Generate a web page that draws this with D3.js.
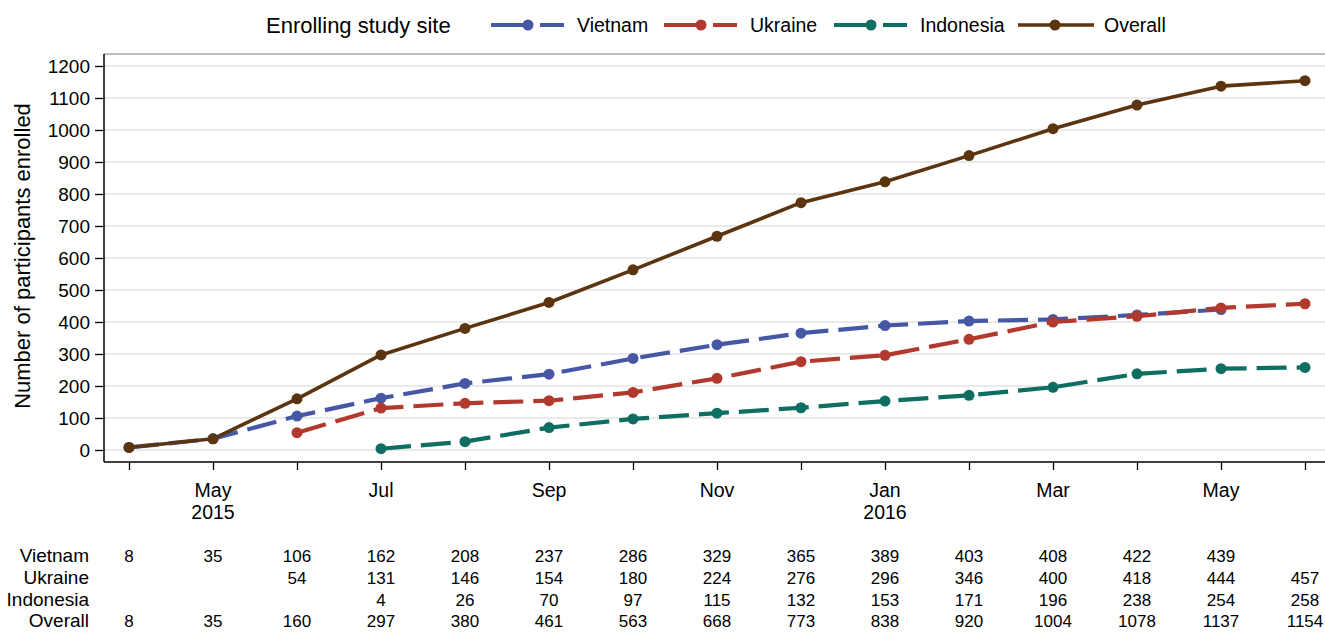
<!DOCTYPE html>
<html><head><meta charset="utf-8">
<script src="https://cdn.jsdelivr.net/npm/d3@7"></script>
<style>body{margin:0;background:#fff}svg{display:block;font-family:"Liberation Sans",Arial,sans-serif}</style>
</head><body>
<svg id="c" width="1325" height="633"></svg>
<script>
const months = ["Apr","May","Jun","Jul","Aug","Sep","Oct","Nov","Dec","Jan","Feb","Mar","Apr","May","Jun"];
const years = {1:"2015", 9:"2016"};
const vietnam   = [8,35,106,162,208,237,286,329,365,389,403,408,422,439,null];
const ukraine   = [null,null,54,131,146,154,180,224,276,296,346,400,418,444,457];
const indonesia = [null,null,null,4,26,70,97,115,132,153,171,196,238,254,258];
const overall   = [8,35,160,297,380,461,563,668,773,838,920,1004,1078,1137,1154];
const yTicks = [0,100,200,300,400,500,600,700,800,900,1000,1100,1200];
const seriesNames = ["Vietnam","Ukraine","Indonesia","Overall"];
const seriesData = [vietnam, ukraine, indonesia, overall];
const colors = ["#4658a5","#b2392e","#0d6e61","#5b3510"];
const dashed = [true,true,true,false];

const svg = d3.select("#c");
const x = d3.scaleLinear().domain([0, months.length-1]).range([129,1305]);
const y = d3.scaleLinear().domain([0,1200]).range([450,66]);
const pL = 104, pR = 1325, pT = 54, pB = 462;

// gridlines
svg.append("g").selectAll("line").data(yTicks).join("line")
  .attr("x1",pL).attr("x2",pR).attr("y1",d=>y(d)).attr("y2",d=>y(d))
  .attr("stroke","#e3e3e3").attr("stroke-width",1.5);
// top border
svg.append("line").attr("x1",pL).attr("x2",pR).attr("y1",pT).attr("y2",pT)
  .attr("stroke","#a8a8a8").attr("stroke-width",1.5);

// y axis
const ya = svg.append("g").attr("transform",`translate(${pL},0)`)
  .call(d3.axisLeft(y).tickValues(yTicks).tickFormat(d3.format("d")).tickSize(9).tickPadding(5).tickSizeOuter(0));
ya.select(".domain").remove();
ya.append("line").attr("x1",0).attr("x2",0).attr("y1",pT).attr("y2",pB).attr("stroke","#000").attr("stroke-width",1.5);
ya.selectAll(".tick line").attr("stroke-width",1.3);
ya.selectAll("text").attr("font-size",19).attr("fill","#000").attr("font-family","Liberation Sans, Arial, sans-serif");

// x axis
const xa = svg.append("g").attr("transform",`translate(0,${pB})`)
  .call(d3.axisBottom(x).tickValues(d3.range(months.length)).tickSize(8).tickFormat(""));
xa.select(".domain").remove();
xa.append("line").attr("x1",pL).attr("x2",pR).attr("y1",0).attr("y2",0).attr("stroke","#000").attr("stroke-width",1.5);
xa.selectAll(".tick line").attr("stroke-width",1.3);
const lab = svg.append("g").attr("font-size",19.5).attr("text-anchor","middle");
months.forEach((m,i)=>{
  if(i%2===1){
    lab.append("text").attr("x",x(i)).attr("y",497).text(m);
    if(years[i]) lab.append("text").attr("x",x(i)).attr("y",519).text(years[i]);
  }
});

// y title
svg.append("text").attr("transform","translate(30,256) rotate(-90)")
  .attr("text-anchor","middle").attr("font-size",22).text("Number of participants enrolled");

// lines
const lineGen2 = d3.line().defined(d=>d.v!=null).x(d=>x(d.i)).y(d=>y(d.v));
seriesData.forEach((s,k)=>{
  const pts = s.map((v,i)=>({v,i}));
  svg.append("path").datum(pts).attr("d",lineGen2).attr("fill","none")
    .attr("stroke",colors[k]).attr("stroke-width",dashed[k]?4.2:3.6)
    .attr("stroke-linejoin","round")
    .attr("stroke-dasharray",dashed[k]?"30,10":null);
});
seriesData.forEach((s,k)=>{
  const pts = s.map((v,i)=>({v,i})).filter(d=>d.v!=null);
  svg.append("g").selectAll("circle").data(pts).join("circle")
    .attr("cx",d=>x(d.i)).attr("cy",d=>y(d.v)).attr("r",5.5).attr("fill",colors[k]);
});

// legend
const lg = svg.append("g");
lg.append("text").attr("x",266).attr("y",33).attr("font-size",22).text("Enrolling study site");
const legX = [491,664,834,1018];
seriesNames.forEach((n,k)=>{
  const x0 = legX[k];
  const g = lg.append("g");
  if(dashed[k]){
    g.append("line").attr("x1",x0).attr("x2",x0+37).attr("y1",25).attr("y2",25).attr("stroke",colors[k]).attr("stroke-width",4);
    g.append("line").attr("x1",x0+49).attr("x2",x0+73).attr("y1",25).attr("y2",25).attr("stroke",colors[k]).attr("stroke-width",4);
  } else {
    g.append("line").attr("x1",x0).attr("x2",x0+76).attr("y1",25).attr("y2",25).attr("stroke",colors[k]).attr("stroke-width",3.6);
  }
  g.append("circle").attr("cx",x0+37).attr("cy",25).attr("r",5.5).attr("fill",colors[k]);
  g.append("text").attr("x",x0+86).attr("y",32).attr("font-size",19.5).text(n);
});

// table
const tbl = svg.append("g");
const rowY = [562,584,606,627];
seriesNames.forEach((n,k)=>{
  tbl.append("text").attr("x",89).attr("y",rowY[k]).attr("text-anchor","end").attr("font-size",19).text(n);
  seriesData[k].forEach((v,i)=>{
    if(v!=null) tbl.append("text").attr("x",x(i)).attr("y",rowY[k]).attr("text-anchor","middle").attr("font-size",17).text(v);
  });
});
</script>
</body></html>
